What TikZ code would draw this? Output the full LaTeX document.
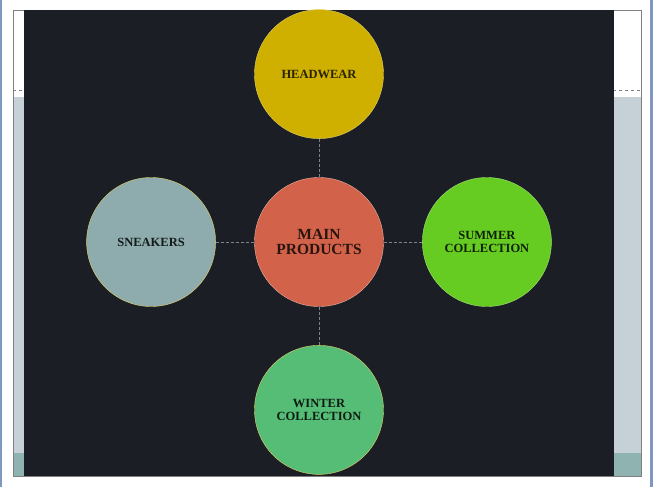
\documentclass[tikz,border=0pt]{standalone}
\usepackage{fontspec}
\setmainfont{Liberation Serif}
\usetikzlibrary{positioning}
\definecolor{slidedark}{RGB}{27,30,37}
\definecolor{slidegray}{RGB}{197,209,215}
\definecolor{slideteal}{RGB}{143,179,176}
\definecolor{edgeblue}{RGB}{127,152,192}
\definecolor{linkgray}{RGB}{125,132,140}
\definecolor{headfill}{RGB}{207,176,0}
\definecolor{mainfill}{RGB}{210,99,74}
\definecolor{sneakfill}{RGB}{142,172,173}
\definecolor{summerfill}{RGB}{102,204,34}
\definecolor{winterfill}{RGB}{86,189,119}
\begin{document}
\begin{tikzpicture}[x=1pt,y=-1pt,node distance=38.5pt,
product/.style={
% The shape:
circle,
% The size:
minimum size=129pt, inner sep=0pt,
% The border:
thin,
% Font
font=\bfseries\fontsize{12.5}{12.5}\selectfont, align=center
},
link/.style={
% The line:
thin, draw=linkgray,
dash pattern=on 3pt off 2pt}]

% slide behind the picture
\useasboundingbox (0,0) rectangle (653,487);
\fill[white] (0,0) rectangle (653,487);
\fill[edgeblue] (0,0) rectangle (1.5,487);
\fill[edgeblue] (650,0) rectangle (653,487);
\fill[slidegray] (13,97) rectangle (641,453);
\fill[slideteal] (13,453) rectangle (641,476);
\draw[gray, dashed] (13,90) -- (641,90);
\draw[gray] (13,10) rectangle (641,476);
\fill[slidedark] (24,10) rectangle (613.5,476);

\node (main) [product, fill=mainfill, draw=mainfill!50!white, text=mainfill!20!black,
  font=\bfseries\fontsize{15.5}{15}\selectfont] at (319,242) {MAIN\\PRODUCTS};
\node (head) [product, fill=headfill, draw=headfill!60!white, text=headfill!20!black, above=of main] {HEADWEAR};
\node (sneak) [product, fill=sneakfill, draw=headfill!60!white, text=sneakfill!15!black, left=of main] {SNEAKERS};
\node (summer) [product, fill=summerfill, draw=summerfill!60!white, text=summerfill!15!black, right=of main] {SUMMER\\COLLECTION};
\node (winter) [product, fill=winterfill, draw=headfill!60!white, text=winterfill!15!black, below=of main] {WINTER\\COLLECTION};

\path (main) edge[link] (head);
\path (main) edge[link] (sneak);
\path (main) edge[link] (summer);
\path (main) edge[link] (winter);
\end{tikzpicture}
\end{document}
